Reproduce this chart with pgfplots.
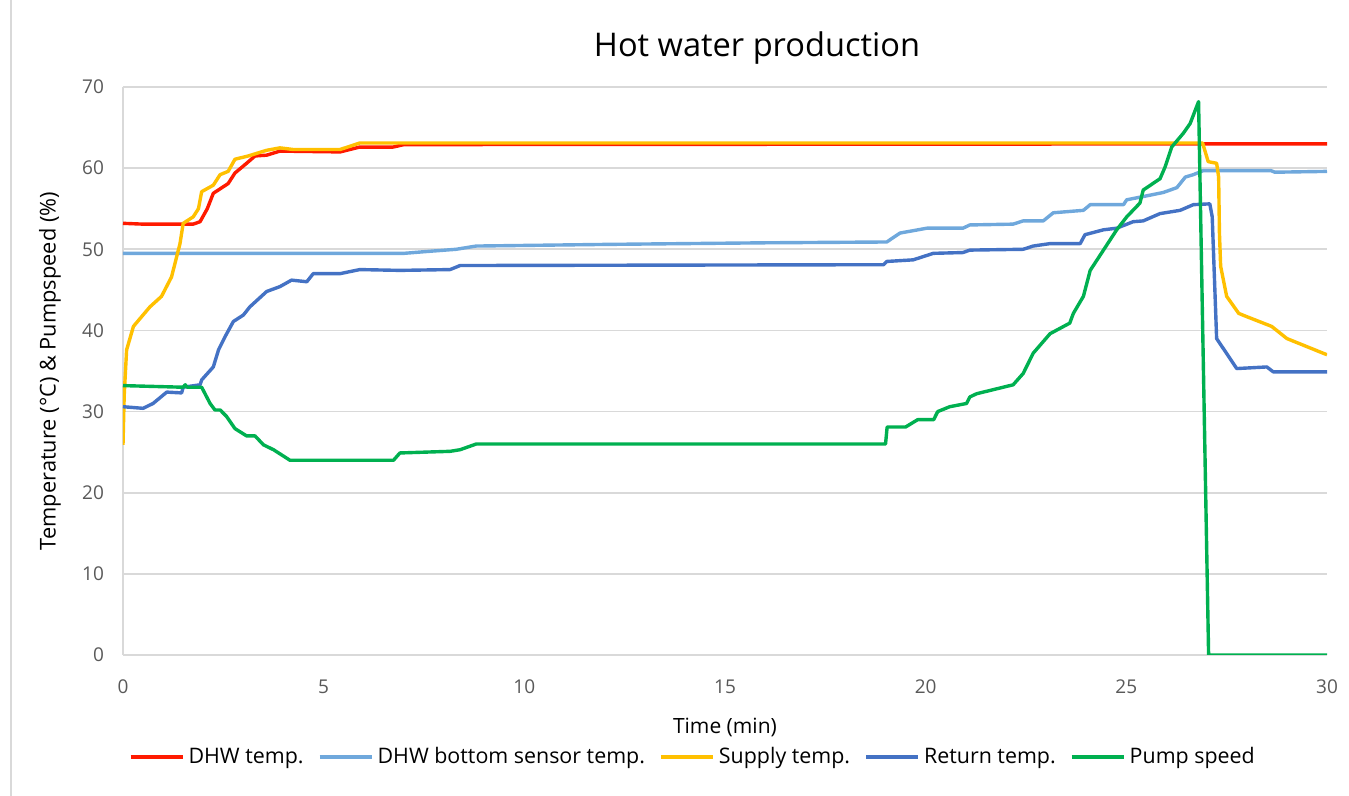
\documentclass[border=0pt]{standalone}
\usepackage{fontspec}
\setmainfont{Open Sans}
\usepackage{pgfplots}
\pgfplotsset{compat=1.18}
\definecolor{cred}{HTML}{FF1A00}
\definecolor{clblue}{HTML}{6FA8DC}
\definecolor{cyellow}{HTML}{FFC000}
\definecolor{cblue}{HTML}{4472C4}
\definecolor{cgreen}{HTML}{00B050}
\definecolor{cgrid}{HTML}{D9D9D9}
\definecolor{ctick}{HTML}{595959}
\begin{document}
\begin{tikzpicture}
\useasboundingbox (-61.5pt,-70.5pt) rectangle (613pt,327.5pt);
\draw[cgrid, line width=0.6pt] (-56pt,-70.5pt) -- (-56pt,327.5pt);
\begin{axis}[
  scale only axis,
  width=602pt, height=284pt,
  xmin=0, xmax=30, ymin=0, ymax=70,
  xtick={0,5,...,30}, ytick={0,10,...,70},
  axis x line*=bottom, axis y line*=left,
  axis line style={cgrid, line width=0.8pt, -},
  ymajorgrids, grid style={cgrid, line width=0.8pt},
  major tick length=0pt,
  /pgf/number format/assume math mode=true,
  tick label style={font=\fontsize{9.5}{11}\selectfont, text=ctick},
  yticklabel style={xshift=-6pt},
  xticklabel style={yshift=-9pt},
  title={Hot water production},
  title style={font=\fontsize{16.3}{19}\selectfont, at={(axis description cs:0.5266,1.048)}, anchor=center},
  xlabel={Time (min)},
  xlabel style={font=\fontsize{10.5}{12}\selectfont, at={(axis description cs:0.5,-0.1268)}, anchor=center},
  ylabel={Temperature (°C) \& Pumpspeed (\%)},
  ylabel style={font=\fontsize{10.9}{12}\selectfont, at={(axis description cs:-0.0606,0.5)}, anchor=center},
  legend columns=5,
  legend style={draw=none, fill=none, font=\fontsize{10.7}{12}\selectfont, at={(axis description cs:0.474,-0.1796)}, anchor=center, /tikz/every even column/.append style={column sep=5pt}},
  legend image code/.code={\draw[#1, line width=2pt] (0pt,0pt) -- (26pt,0pt);},
  every axis plot/.append style={line width=1.7pt, line join=round},
]
\addplot[cred] coordinates {(0,53.2) (0.5,53.1) (1.75,53.1) (1.92,53.4) (2.1,55.0) (2.25,56.9) (2.62,58.1) (2.79,59.4) (3.08,60.6) (3.29,61.5) (3.58,61.6) (3.91,62.1) (5.41,62.0) (5.9,62.6) (6.73,62.6) (7.0,62.9) (30,63.0)};
\addlegendentry{DHW temp.}
\addplot[clblue] coordinates {(0,49.5) (7.0,49.5) (7.5,49.7) (8.3,50.0) (8.8,50.4) (12,50.6) (16,50.8) (19.03,50.9) (19.36,52.0) (20.03,52.6) (20.93,52.6) (21.1,53.0) (22.18,53.1) (22.43,53.5) (22.93,53.5) (23.18,54.5) (23.93,54.8) (24.1,55.5) (24.93,55.5) (25.01,56.1) (25.42,56.5) (25.92,57.0) (26.26,57.6) (26.47,58.9) (26.67,59.2) (26.92,59.7) (28.6,59.7) (28.7,59.5) (30,59.6)};
\addlegendentry{DHW bottom sensor temp.}
\addplot[cyellow] coordinates {(0,25.9) (0.03,32) (0.09,37.6) (0.26,40.5) (0.67,42.9) (0.96,44.2) (1.21,46.6) (1.42,50.7) (1.5,53.2) (1.75,54.0) (1.88,55.0) (1.96,57.1) (2.25,57.9) (2.42,59.2) (2.62,59.6) (2.79,61.1) (3.12,61.5) (3.58,62.2) (3.91,62.5) (4.24,62.3) (5.41,62.3) (5.9,63.1) (26.9,63.1) (27.04,60.8) (27.25,60.6) (27.3,58.9) (27.32,52) (27.35,47.9) (27.5,44.2) (27.8,42.1) (28.0,41.7) (28.62,40.5) (29.0,39.0) (30,37.0)};
\addlegendentry{Supply temp.}
\addplot[cblue] coordinates {(0,30.6) (0.5,30.4) (0.75,31.0) (1.09,32.4) (1.46,32.3) (1.5,33.0) (1.92,33.3) (1.96,33.9) (2.25,35.5) (2.38,37.6) (2.54,39.2) (2.75,41.1) (3.0,41.9) (3.16,42.9) (3.58,44.8) (3.91,45.4) (4.2,46.2) (4.58,46.0) (4.74,47.0) (5.41,47.0) (5.9,47.5) (6.9,47.4) (8.15,47.5) (8.4,48.0) (18.95,48.1) (19.03,48.5) (19.69,48.7) (20.19,49.5) (20.93,49.6) (21.1,49.9) (22.43,50.0) (22.68,50.4) (23.1,50.7) (23.85,50.7) (23.97,51.8) (24.43,52.4) (24.76,52.6) (25.17,53.4) (25.42,53.5) (25.84,54.4) (26.34,54.8) (26.67,55.5) (27.08,55.6) (27.14,54) (27.25,39.0) (27.75,35.3) (28.5,35.5) (28.66,34.9) (30,34.9)};
\addlegendentry{Return temp.}
\addplot[cgreen] coordinates {(0,33.2) (1.5,33.0) (1.55,33.3) (1.6,33.0) (1.96,33.0) (2.17,31.0) (2.29,30.2) (2.42,30.2) (2.58,29.4) (2.79,27.9) (3.08,27.0) (3.29,27.0) (3.5,25.9) (3.75,25.3) (4.16,24.0) (6.74,24.0) (6.9,24.9) (8.15,25.1) (8.4,25.3) (8.8,26.0) (19.0,26.0) (19.04,28.1) (19.5,28.1) (19.8,29.0) (20.2,29.0) (20.3,30.0) (20.6,30.6) (21.02,31.0) (21.1,31.8) (21.27,32.2) (22.18,33.3) (22.43,34.7) (22.68,37.2) (23.1,39.6) (23.59,40.9) (23.68,42.1) (23.93,44.2) (24.1,47.4) (24.43,49.9) (24.76,52.4) (25.01,54.0) (25.34,55.7) (25.42,57.3) (25.84,58.7) (25.97,60.2) (26.13,62.6) (26.42,64.3) (26.59,65.5) (26.8,68.2) (27.05,0) (30,0)};
\addlegendentry{Pump speed}
\end{axis}
\end{tikzpicture}
\end{document}
